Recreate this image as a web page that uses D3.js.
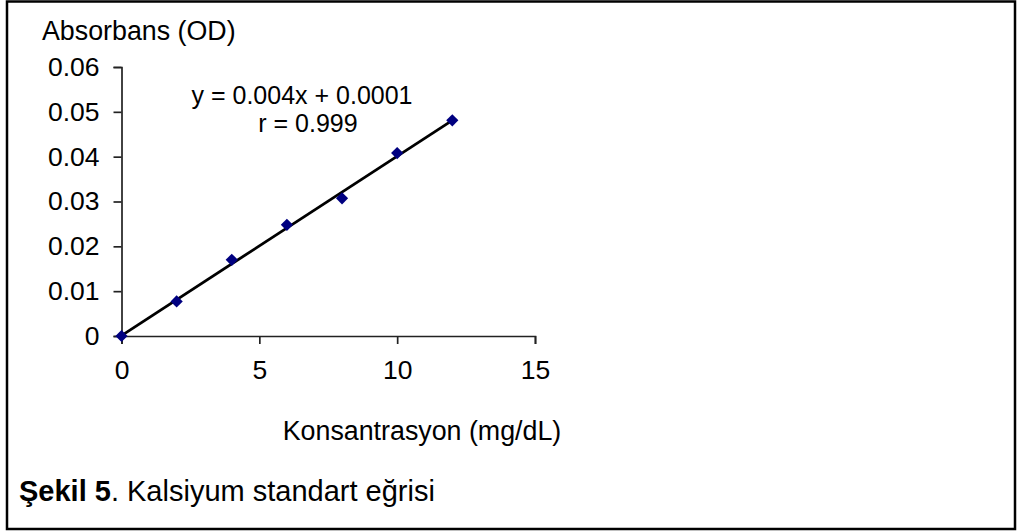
<!DOCTYPE html>
<html>
<head>
<meta charset="utf-8">
<script src="https://cdn.jsdelivr.net/npm/d3@7"></script>
<style>
  html, body { margin: 0; padding: 0; background: #fff; }
  svg { display: block; }
  text { font-family: "Liberation Sans", Arial, sans-serif; fill: #000; }
</style>
</head>
<body>
<svg id="chart" width="1017" height="531"></svg>
<script>
// Calcium standard curve: concentration (mg/dL) vs absorbance (OD)
const concentrations = [0, 2, 4, 6, 8, 10, 12];
const absorbances = [0, 0.0077, 0.0170, 0.0248, 0.0307, 0.0408, 0.0481];
const xTicks = [0, 5, 10, 15];
const yTicks = [0, 0.01, 0.02, 0.03, 0.04, 0.05, 0.06];
const fitSlope = 0.004;
const fitIntercept = 0.0001;
const fitLines = ["y = 0.004x + 0.0001", "r = 0.999"];
const yTitle = "Absorbans (OD)";
const xTitle = "Konsantrasyon (mg/dL)";

const svg = d3.select("#chart");

// outer frame
svg.append("rect")
  .attr("x", 7).attr("y", 1.5)
  .attr("width", 1008).attr("height", 527.5)
  .attr("fill", "none").attr("stroke", "#000").attr("stroke-width", 2.5);

const x = d3.scaleLinear().domain([0, 15]).range([121.5, 535]);
const y = d3.scaleLinear().domain([0, 0.06]).range([336, 67]);

const tickFont = "26.5px";

// y axis
const yAxis = svg.append("g")
  .attr("transform", `translate(${x(0)},0)`)
  .call(d3.axisLeft(y).tickValues(yTicks).tickSize(8).tickPadding(14)
    .tickFormat(d => d === 0 ? "0" : d3.format(".2f")(d)));
yAxis.select(".domain").attr("stroke", "#222").attr("stroke-width", 1.7);
yAxis.selectAll(".tick line").attr("stroke", "#222").attr("stroke-width", 1.7);
yAxis.selectAll(".tick text")
  .attr("font-family", "'Liberation Sans', Arial, sans-serif")
  .attr("font-size", tickFont).attr("fill", "#000");

// x axis
const xAxis = svg.append("g")
  .attr("transform", `translate(0,${y(0)})`)
  .call(d3.axisBottom(x).tickValues(xTicks).tickSize(8).tickPadding(16)
    .tickFormat(d3.format("d")));
xAxis.select(".domain").attr("stroke", "#222").attr("stroke-width", 1.7);
xAxis.selectAll(".tick line").attr("stroke", "#222").attr("stroke-width", 1.7);
xAxis.selectAll(".tick text")
  .attr("font-family", "'Liberation Sans', Arial, sans-serif")
  .attr("font-size", tickFont).attr("fill", "#000");

// linear fit line over the measured range
const xExtent = d3.extent(concentrations);
svg.append("line")
  .attr("x1", x(xExtent[0])).attr("y1", y(fitSlope * xExtent[0] + fitIntercept))
  .attr("x2", x(xExtent[1])).attr("y2", y(fitSlope * xExtent[1] + fitIntercept))
  .attr("stroke", "#000").attr("stroke-width", 2.8);

// measured points as navy diamonds
const diamond = d3.symbol().type(d3.symbolDiamond2).size(95);
svg.append("g").selectAll("path")
  .data(concentrations.map((c, i) => [c, absorbances[i]]))
  .join("path")
  .attr("d", diamond)
  .attr("transform", d => `translate(${x(d[0])},${y(d[1])})`)
  .attr("fill", "#000080");

// fit equation
svg.append("text").attr("x", 302).attr("y", 104)
  .attr("text-anchor", "middle").attr("font-size", "25px").text(fitLines[0]);
svg.append("text").attr("x", 308).attr("y", 132)
  .attr("text-anchor", "middle").attr("font-size", "25px").text(fitLines[1]);

// axis titles
svg.append("text").attr("x", 42).attr("y", 40)
  .attr("font-size", "26.8px").text(yTitle);
svg.append("text").attr("x", 422).attr("y", 440)
  .attr("text-anchor", "middle").attr("font-size", "26.8px").text(xTitle);

// caption
const cap = svg.append("text").attr("x", 19).attr("y", 501).attr("font-size", "29px");
cap.append("tspan").attr("font-weight", "bold").text("Şekil 5");
cap.append("tspan").text(". Kalsiyum standart eğrisi");
</script>
</body>
</html>
